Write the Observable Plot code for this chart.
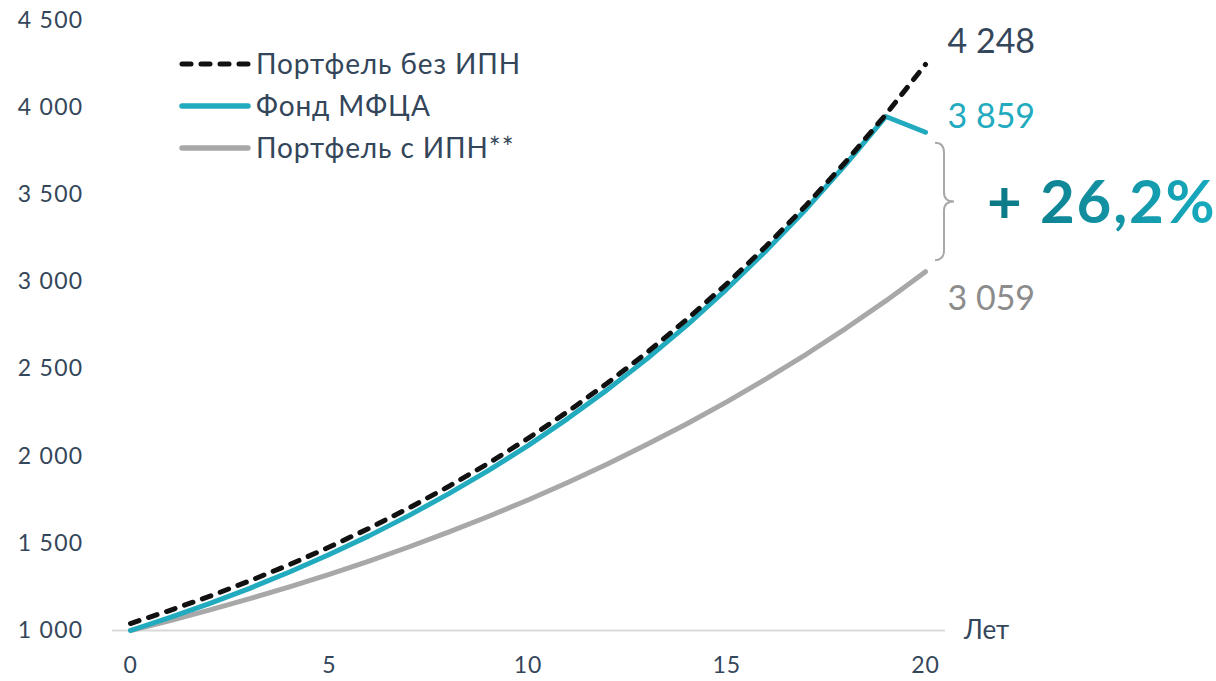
<!DOCTYPE html>
<html><head><meta charset="utf-8">
<script src="https://cdn.jsdelivr.net/npm/d3@7"></script>
<script src="https://cdn.jsdelivr.net/npm/@observablehq/plot@0.6"></script>
<style>
body{margin:0;background:#fff;font-family:Lato,"Noto Sans",sans-serif}
#chart svg{display:block}
#chart g[aria-label="y-axis tick label"] text{letter-spacing:1.3px}
#chart g[aria-label="x-axis tick label"] text{letter-spacing:0.8px}
</style>
</head><body><div id="chart"></div>
<script>
const years   = [0,1,2,3,4,5,6,7,8,9,10,11,12,13,14,15,16,17,18,19,20];
const noTax   = [1040,1116,1197,1285,1378,1479,1586,1702,1826,1959,2102,2256,2420,2596,2786,2989,3207,3440,3691,3960,4248];
const fund    = [1000,1075,1156,1242,1336,1436,1543,1659,1784,1917,2061,2216,2382,2560,2752,2959,3181,3419,3676,3949,3859];
const withTax = [1000,1057,1118,1183,1250,1322,1398,1479,1564,1654,1749,1849,1955,2068,2186,2312,2445,2585,2734,2891,3059];
const seriesNames = ["Портфель без ИПН","Фонд МФЦА","Портфель с ИПН**"];
const seriesColors = ["#111111","#22abbe","#a8a8a8"];
const yTicks = [1000,1500,2000,2500,3000,3500,4000,4500];
const xTicks = [0,5,10,15,20];
const xLabel = "Лет";
const labelColors = ["#34465a","#22abbe","#8c8c8c"];

const seriesValues = [noTax, fund, withTax];
const rows = [];
seriesValues.forEach((vals, k) => years.forEach((t, i) => rows.push({t, v: vals[i], s: seriesNames[k], k})));
const last = years.length - 1;
const fmt = d => d3.format(",")(d).replace(/,/g, " ");
const ends = seriesValues.map((vals, k) => ({t: years[last], v: vals[last], k, label: fmt(vals[last])}));
const pct = "+ " + ((fund[last] / withTax[last] - 1) * 100).toFixed(1).replace(".", ",") + "%";
const textColor = "#34465a";
const endOffsets = [-22, -15, 27];

const brace = (index, scales, values, dims) => {
  const x0 = scales.x(years[last]) + 10, x1 = x0 + 9, x2 = x0 + 19;
  const yTop = scales.y(fund[last]) + 11, yBot = scales.y(withTax[last]) - 11;
  const mid = (yTop + yBot) / 2;
  const g = d3.create("svg:g");
  g.append("path")
    .attr("d", `M${x0},${yTop} Q${x1},${yTop} ${x1},${yTop+10} L${x1},${mid-9} Q${x1},${mid} ${x2},${mid} Q${x1},${mid} ${x1},${mid+9} L${x1},${yBot-10} Q${x1},${yBot} ${x0},${yBot}`)
    .attr("fill", "none").attr("stroke", "#a8a8a8").attr("stroke-width", 2);
  const defs = g.append("defs");
  const lg = defs.append("linearGradient").attr("id", "pctGrad");
  lg.append("stop").attr("offset", "0%").attr("stop-color", "#0c7784");
  lg.append("stop").attr("offset", "100%").attr("stop-color", "#18abbf");
  g.append("text")
    .attr("x", x2 + 33).attr("y", mid)
    .attr("dy", "0.36em")
    .attr("text-anchor", "start")
    .attr("font-size", 60).attr("font-weight", 700)
    .attr("letter-spacing", "1.8px")
    .attr("font-family", "Lato, sans-serif")
    .attr("fill", "url(#pctGrad)")
    .text(pct);
  return g.node();
};

const legend = (index, scales, values, dims) => {
  const g = d3.create("svg:g");
  const ys = [64, 106, 148];
  seriesNames.forEach((name, k) => {
    const ln = g.append("line").attr("x1", 182).attr("x2", 248).attr("y1", ys[k]).attr("y2", ys[k])
      .attr("stroke", seriesColors[k]).attr("stroke-width", k === 0 ? 5 : 5.5).attr("stroke-linecap", "round");
    if (k === 0) ln.attr("stroke-dasharray", "9,10");
    g.append("text").attr("x", 256).attr("y", ys[k]).attr("dy", "0.35em")
      .attr("text-anchor", "start")
      .attr("font-size", 28).attr("letter-spacing", "0.9px")
      .attr("font-family", "Lato, sans-serif").attr("fill", textColor).text(name);
  });
  return g.node();
};

const chart = Plot.plot({
  width: 1216, height: 681,
  marginLeft: 130, marginRight: 291, marginTop: 20, marginBottom: 51,
  style: {fontFamily: "Lato, sans-serif", background: "#fff", overflow: "visible"},
  x: {domain: [0, 20], ticks: xTicks},
  y: {domain: [1000, 4500], ticks: yTicks},
  marks: [
    Plot.ruleY([yTicks[0]], {x1: -0.45, x2: 20.5, stroke: "#d9d9d9", strokeWidth: 2}),
    Plot.axisY({ticks: yTicks, tickSize: 0, tickPadding: 47, fontSize: 23, fill: textColor, tickFormat: fmt, label: null}),
    Plot.axisX({ticks: xTicks, tickSize: 0, tickPadding: 26, fontSize: 23, fill: textColor, label: null}),
    Plot.line(rows.filter(d => d.k === 2), {x: "t", y: "v", stroke: seriesColors[2], strokeWidth: 5}),
    Plot.line(rows.filter(d => d.k === 1), {x: "t", y: "v", stroke: seriesColors[1], strokeWidth: 5}),
    Plot.line(rows.filter(d => d.k === 0), {x: "t", y: "v", stroke: seriesColors[0], strokeWidth: 5, strokeDasharray: "9,10", strokeLinecap: "round"}),
    ...ends.map(e => Plot.text([e], {x: "t", y: "v", text: "label", fill: labelColors[e.k], textAnchor: "start",
      dx: 22, dy: endOffsets[e.k], fontSize: 34, style: {letterSpacing: "1.2px"}})),
    Plot.text([xLabel], {x: years[last], y: yTicks[0], text: d => d, dx: 61, fontSize: 26, fill: textColor}),
    brace,
    legend
  ]
});
document.getElementById("chart").append(chart);
</script>
</body></html>
